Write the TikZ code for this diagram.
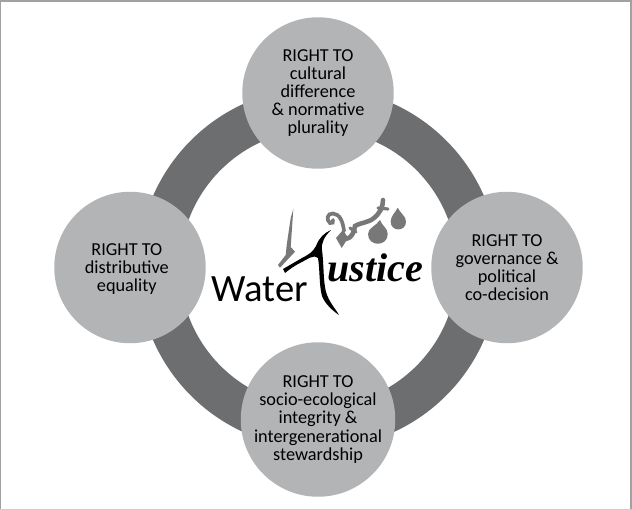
\documentclass[tikz,border=0pt]{standalone}
\usepackage{fontspec}
\setmainfont{Carlito}
\newfontfamily\scriptface{Liberation Serif}
\definecolor{rimgry}{gray}{0.63}
\definecolor{footgry}{gray}{0.80}
\definecolor{ringgry}{RGB}{109,110,112}
\definecolor{discgry}{RGB}{179,180,182}
\definecolor{logogry}{gray}{0.47}
\usetikzlibrary{positioning}
\tikzset{
disctext/.style={align=center, font=\fontsize{10.4}{10.3}\selectfont, text=black, inner sep=0pt},
rightdisc/.style={circle, draw=none, fill=discgry, minimum size=3.03cm, inner sep=0pt, outer sep=0pt, disctext},
logopart/.style={fill=logogry, draw=none},
inkpart/.style={fill=black, draw=none},
}
\begin{document}
\begin{tikzpicture}[x=0.02cm, y=-0.02cm]
\useasboundingbox (0,0) rectangle (632,510);
% frame
\fill[rimgry] (0,0) rectangle (632,510);
\fill[white] (1,2.5) rectangle (629.5,509);
\fill[footgry] (0,509) rectangle (632,510);
% ring
\node[circle, draw=ringgry, line width=0.84cm, minimum size=6.38cm, inner sep=0pt, outer sep=0pt] (ring) at (318.5,268) {};
% four discs
\node[rightdisc] (cultural) at (318,93) {RIGHT TO\\cultural\\difference\\\& normative\\plurality};
\node[rightdisc, label={[disctext, xshift=-1.8, yshift=-1]center:RIGHT TO\\distributive\\equality}] (distributive) at (130,267.5) {};
\node[rightdisc] (governance) at (507,267.5) {RIGHT TO\\governance \&\\political\\co-decision};
\node[rightdisc] (ecological) at (318,419.5) {RIGHT TO\\socio-ecological\\integrity \&\\intergenerational\\stewardship};
% logo
\node[anchor=base west, inner sep=0pt, font=\fontsize{22}{24}\selectfont] (water) at (211,301.5) {Water};
\node[anchor=base west, inner sep=0pt, font=\scriptface\bfseries\itshape\fontsize{22.8}{24}\selectfont] (justice) at (327,281) {ustice};
% sword
\fill[logopart] (293.3,209) -- (290.7,247) -- (295,251.7) -- (280,267.7) -- (278,265) -- (285.7,255) -- (286.7,245) -- (290.7,218) -- cycle;
% drops
\fill[logopart] (380,220) .. controls (376,226) and (368,228) .. (368,234) .. controls (368,247) and (387.7,247) .. (387.7,234) .. controls (387.7,228) and (382,226) .. (380,220) -- cycle;
\fill[logopart] (397.7,207.7) .. controls (395,213) and (390.7,216) .. (390.7,221.7) .. controls (390.7,232) and (406,232) .. (406,221.7) .. controls (406,216) and (400,213) .. (397.7,207.7) -- cycle;
% scale arm
\draw[logogry, line width=2.1pt, line cap=round] (344,231) .. controls (343,222) and (340,214) .. (333,213.5) .. controls (327,213) and (326,220) .. (330,223) .. controls (332,224) and (334,222) .. (333,220);
\fill[logopart] (336,238) -- (343,230) -- (348,238) -- (341.7,248) -- cycle;
\draw[logogry, line width=2.6pt, line cap=round] (346,239) .. controls (352,238) and (354,232) .. (355,226) .. controls (362,222) and (368,223) .. (374,218) .. controls (380,213) and (383,207) .. (383,200);
\draw[logogry, line width=1.8pt, line cap=round] (350,228) -- (356,232);
\draw[logogry, line width=1.8pt, line cap=round] (378,208) -- (388,209);
% J stroke
\fill[inkpart] (283,269) -- (302,258) .. controls (308,255) and (313,252) .. (316,246) .. controls (319,238) and (324,233) .. (331,230) .. controls (325,236) and (321,242) .. (322,250) .. controls (324,265) and (323,280) .. (326,292) .. controls (329,302) and (335,308) .. (339,315) .. controls (333,311) and (325,304) .. (322,296) .. controls (319,285) and (320,270) .. (318,258) .. controls (314,254) and (308,259) .. (300,263) .. controls (294,266) and (290,269) .. (285,273) -- cycle;
\end{tikzpicture}
\end{document}
